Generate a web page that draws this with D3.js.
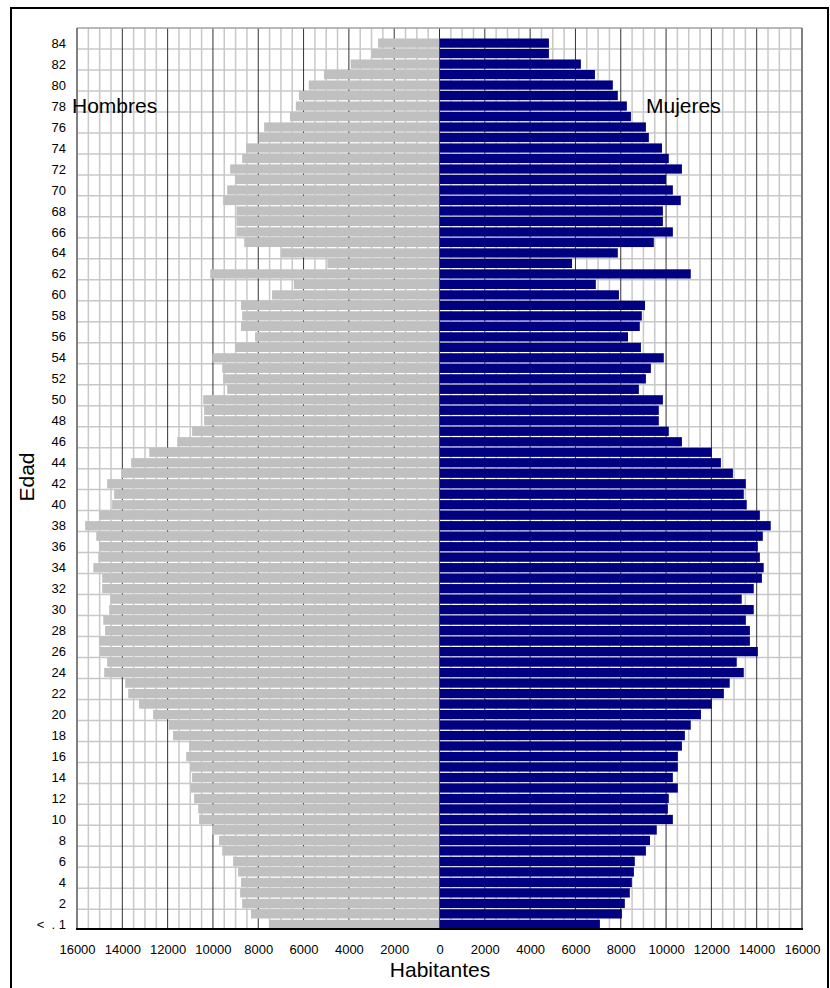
<!DOCTYPE html>
<html>
<head>
<meta charset="utf-8">
<script src="https://cdn.jsdelivr.net/npm/d3@7"></script>
<style>
  html, body { margin: 0; padding: 0; background: #fff; }
  svg { display: block; font-family: Arial, "Liberation Sans", sans-serif; }
</style>
</head>
<body>
<svg id="chart" width="830" height="988"></svg>
<script>
// Ages 0..84 (bottom to top)
const ages = d3.range(0, 85);
const ageTickLabels = ["<  . 1", "2", "4", "6", "8", "10", "12", "14", "16", "18", "20", "22", "24", "26", "28", "30",
  "32", "34", "36", "38", "40", "42", "44", "46", "48", "50", "52", "54", "56", "58", "60", "62", "64", "66", "68",
  "70", "72", "74", "76", "78", "80", "82", "84"];
const ageTickValues = [0, 2, 4, 6, 8, 10, 12, 14, 16, 18, 20, 22, 24, 26, 28, 30, 32, 34, 36, 38, 40, 42, 44, 46, 48,
  50, 52, 54, 56, 58, 60, 62, 64, 66, 68, 70, 72, 74, 76, 78, 80, 82, 84];

// Hombres by age 0..84
const hombres = [7520, 8320, 8710, 8800, 8760, 8890, 9110, 9590, 9730, 10040,
  10610, 10650, 10830, 10990, 10920, 10990, 11180, 11050, 11760, 11950,
  12640, 13260, 13740, 13870, 14800, 14670, 14980, 15020, 14760, 14840,
  14580, 14530, 14890, 14890, 15280, 15060, 15020, 15150, 15640, 15020,
  14450, 14360, 14670, 14050, 13610, 12810, 11580, 10920, 10390, 10390,
  10430, 9370, 9550, 9590, 10020, 9020, 8140, 8760, 8710, 8760,
  7390, 6430, 10120, 4950, 6990, 8620, 8960, 8960, 8960, 9550,
  9370, 9020, 9240, 8710, 8540, 7980, 7740, 6600, 6340, 6200,
  5770, 5100, 3920, 2990, 2710];

// Mujeres by age 0..84
const mujeres = [7080, 8050, 8180, 8400, 8490, 8580, 8620, 9110, 9290, 9590,
  10300, 10080, 10120, 10520, 10300, 10520, 10520, 10700, 10830, 11090,
  11540, 12020, 12550, 12810, 13430, 13120, 14050, 13700, 13700, 13520,
  13870, 13340, 13870, 14230, 14310, 14140, 14050, 14270, 14620, 14140,
  13560, 13430, 13520, 12950, 12420, 12020, 10700, 10120, 9680, 9680,
  9860, 8800, 9110, 9330, 9900, 8890, 8320, 8840, 8930, 9070,
  7920, 6900, 11090, 5850, 7870, 9460, 10300, 9860, 9860, 10650,
  10300, 10000, 10700, 10120, 9820, 9240, 9110, 8450, 8270, 7870,
  7650, 6860, 6240, 4830, 4830];

const xTickValues = [-16000, -14000, -12000, -10000, -8000, -6000, -4000, -2000, 0,
  2000, 4000, 6000, 8000, 10000, 12000, 14000, 16000];

const svg = d3.select("#chart");
const L = 77, R = 802, T = 28, B = 929;

// outer frame
svg.append("rect").attr("x", 11).attr("y", 8).attr("width", 817).attr("height", 990)
  .attr("fill", "none").attr("stroke", "#000").attr("stroke-width", 2);

const x = d3.scaleLinear().domain([-16000, 16000]).range([L, R]);
// band domain has one empty slot above the last age
const y = d3.scaleBand().domain(ages.concat([85])).range([B, T]).paddingInner(0.12).paddingOuter(0).align(0);
const step = y.step();

const grid = svg.append("g");
// minor vertical grid (every 500)
grid.selectAll("line.minor").data(d3.range(-16000, 16001, 500).filter(v => v % 2000 !== 0))
  .join("line").attr("class", "minor")
  .attr("x1", d => x(d)).attr("x2", d => x(d)).attr("y1", T).attr("y2", B)
  .attr("stroke", "#c8c8c8").attr("stroke-width", 1.5);
// horizontal grid lines between every two ages
grid.selectAll("line.h").data(ageTickValues.filter(a => a > 0))
  .join("line").attr("class", "h")
  .attr("x1", L).attr("x2", R)
  .attr("y1", d => y(d) + step).attr("y2", d => y(d) + step)
  .attr("stroke", "#c8c8c8").attr("stroke-width", 1.5);
// major vertical grid (every 2000)
grid.selectAll("line.major").data(xTickValues.filter(v => Math.abs(v) < 16000))
  .join("line").attr("class", "major")
  .attr("x1", d => x(d)).attr("x2", d => x(d)).attr("y1", T).attr("y2", B)
  .attr("stroke", "#333").attr("stroke-width", 1);

// bars
svg.append("g").selectAll("rect").data(ages).join("rect")
  .attr("x", i => x(-hombres[i])).attr("y", i => y(i))
  .attr("width", i => x(0) - x(-hombres[i])).attr("height", y.bandwidth())
  .attr("fill", "#c0c0c0");
svg.append("g").selectAll("rect").data(ages).join("rect")
  .attr("x", x(0)).attr("y", i => y(i))
  .attr("width", i => x(mujeres[i]) - x(0)).attr("height", y.bandwidth())
  .attr("fill", "#000080");

// plot border
svg.append("line").attr("x1", L).attr("x2", R).attr("y1", T).attr("y2", T).attr("stroke", "#a0a0a0").attr("stroke-width", 1.5);
svg.append("line").attr("x1", L).attr("x2", L).attr("y1", T).attr("y2", B).attr("stroke", "#808080").attr("stroke-width", 2);
svg.append("line").attr("x1", R).attr("x2", R).attr("y1", T).attr("y2", B).attr("stroke", "#808080").attr("stroke-width", 2);
svg.append("line").attr("x1", L - 1).attr("x2", R + 1).attr("y1", B).attr("y2", B).attr("stroke", "#000").attr("stroke-width", 2);

// x axis labels
const xAxis = d3.axisBottom(x).tickValues(xTickValues).tickSize(0).tickPadding(0)
  .tickFormat(d => String(Math.abs(d)));
const gx = svg.append("g").attr("transform", `translate(0, ${B + 16})`).call(xAxis);
gx.select(".domain").remove();
gx.selectAll("text").attr("font-size", 13).attr("font-family", "Arial, 'Liberation Sans', sans-serif")
  .attr("fill", "#000").attr("dy", "0.71em");

// y axis labels
const yAxis = d3.axisLeft(y).tickValues(ageTickValues).tickSize(0).tickPadding(0)
  .tickFormat((d, i) => ageTickLabels[i]);
const gy = svg.append("g").attr("transform", `translate(66, 0)`).call(yAxis);
gy.select(".domain").remove();
gy.selectAll("text").attr("font-size", 13).attr("font-family", "Arial, 'Liberation Sans', sans-serif")
  .attr("fill", "#000").attr("dy", "0.35em").style("white-space", "pre");

// titles
const tf = "Arial, 'Liberation Sans', sans-serif";
svg.append("text").attr("x", 72).attr("y", 113).attr("font-size", 21).attr("font-family", tf).text("Hombres");
svg.append("text").attr("x", 646).attr("y", 113).attr("font-size", 21).attr("font-family", tf).text("Mujeres");
svg.append("text").attr("x", 440).attr("y", 977).attr("text-anchor", "middle").attr("font-size", 21).attr("font-family", tf).text("Habitantes");
svg.append("text").attr("transform", "translate(34, 477) rotate(-90)").attr("text-anchor", "middle")
  .attr("font-size", 21).attr("font-family", tf).text("Edad");
</script>
</body>
</html>
